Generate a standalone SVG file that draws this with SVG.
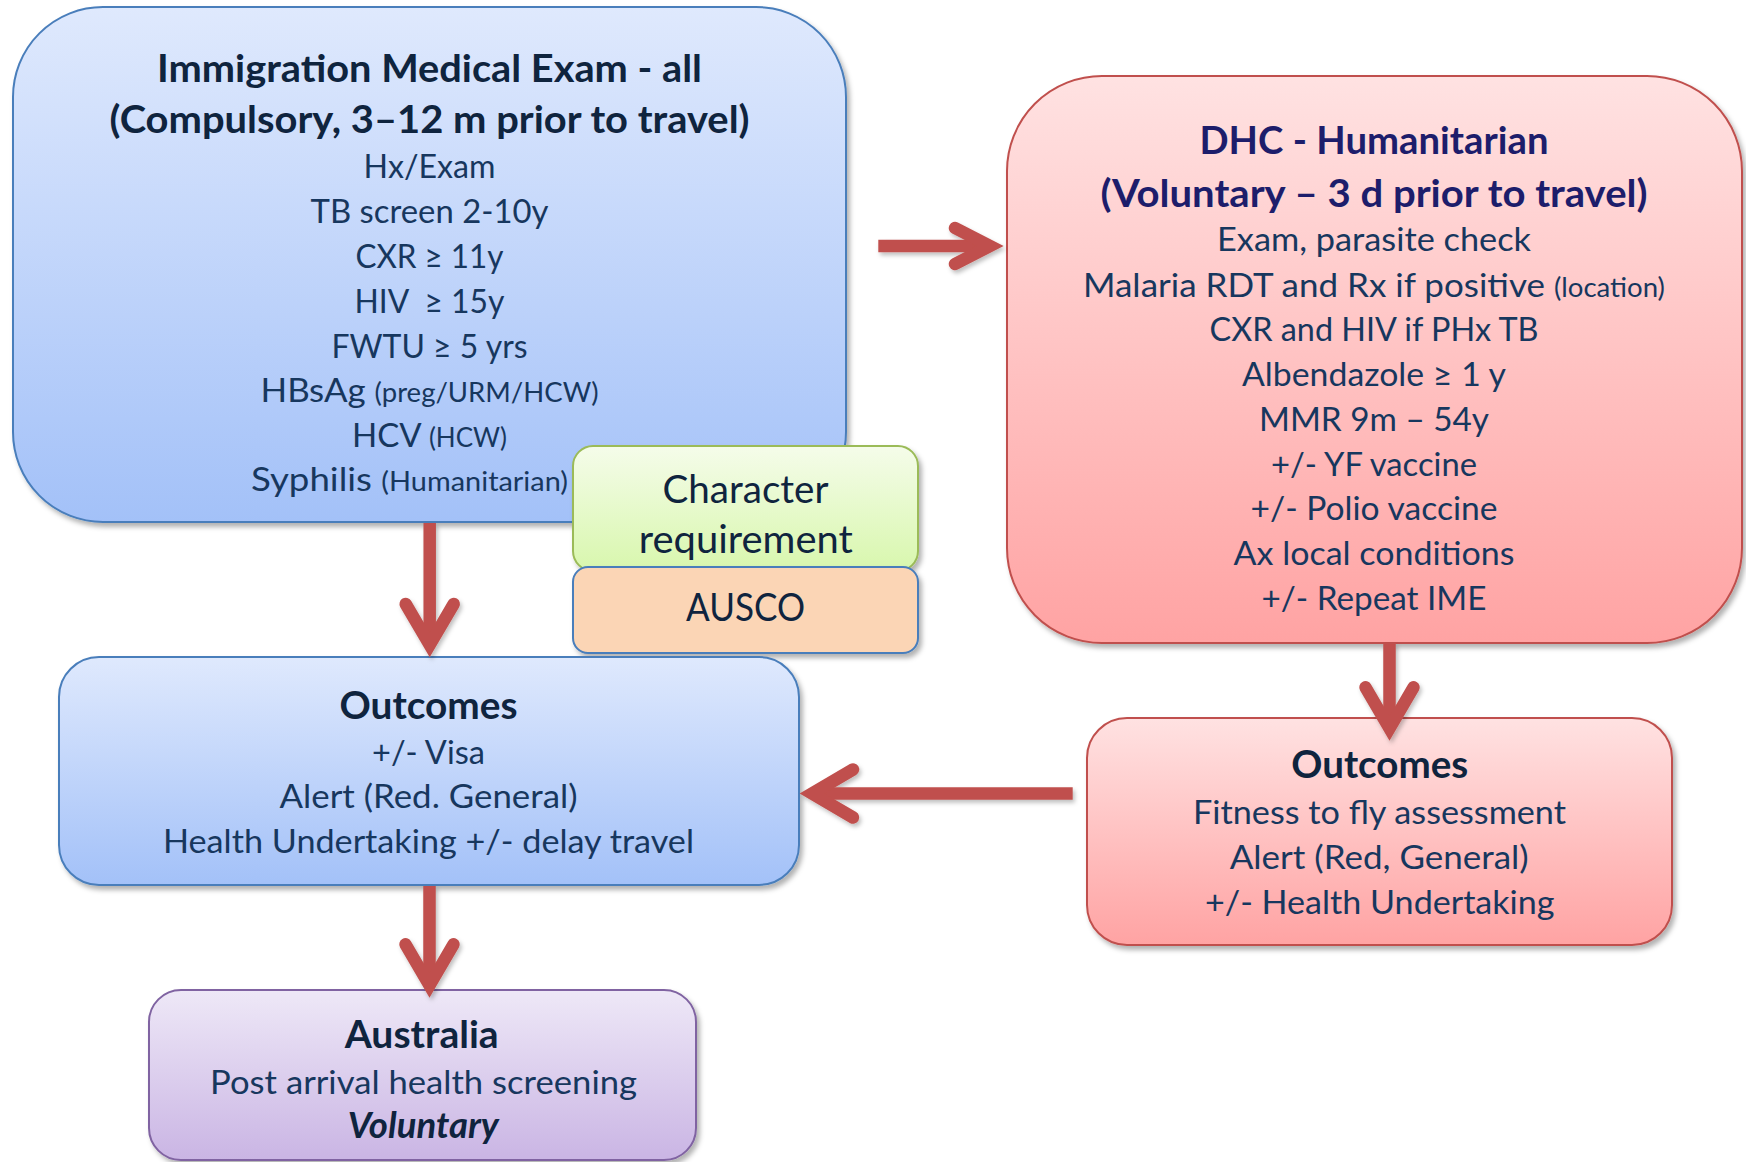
<svg xmlns="http://www.w3.org/2000/svg" width="1746" height="1162" viewBox="0 0 1746 1162">
<defs>
<linearGradient id="gBlue" x1="0" y1="0" x2="0" y2="1"><stop offset="0" stop-color="#DFE9FD"/><stop offset="1" stop-color="#A3C1F8"/></linearGradient>
<linearGradient id="gGreen" x1="0" y1="0" x2="0" y2="1"><stop offset="0" stop-color="#F5FCEA"/><stop offset="1" stop-color="#D8F7AD"/></linearGradient>
<linearGradient id="gPink" x1="0" y1="0" x2="0" y2="1"><stop offset="0" stop-color="#FFE2E2"/><stop offset="1" stop-color="#FFA3A3"/></linearGradient>
<linearGradient id="gPurple" x1="0" y1="0" x2="0" y2="1"><stop offset="0" stop-color="#EEE8F7"/><stop offset="1" stop-color="#CAB5E4"/></linearGradient>
<filter id="sh" x="-10%" y="-10%" width="120%" height="130%"><feDropShadow dx="3" dy="4" stdDeviation="2.5" flood-color="#000" flood-opacity="0.3"/></filter>
<filter id="ash" x="-20%" y="-20%" width="140%" height="140%"><feDropShadow dx="2" dy="3" stdDeviation="2" flood-color="#000" flood-opacity="0.25"/></filter>
<style>
text{font-family:Lato,"Open Sans","Liberation Sans",sans-serif;text-anchor:middle;fill:#17375E;font-size:33px}
.t{font-weight:bold;font-size:38px;fill:#0F243E}
.dt{font-weight:bold;font-size:38px;fill:#1D1D6B}
.s{font-size:26px}
.big{font-size:38px;fill:#0F243E}
.bi{font-weight:bold;font-style:italic;font-size:36px;fill:#0F243E}
.blue{fill:url(#gBlue);stroke:#4A7EBB;stroke-width:2}
.green{fill:url(#gGreen);stroke:#9BBB59;stroke-width:2}
.orange{fill:#FBD5B5;stroke:#4A7EBB;stroke-width:2}
.pink{fill:url(#gPink);stroke:#C0504D;stroke-width:2}
.purple{fill:url(#gPurple);stroke:#8064A2;stroke-width:2}
.shaft{fill:none;stroke:#C0504D;stroke-width:12.5}
.head{fill:none;stroke:#C0504D;stroke-width:12.5;stroke-linecap:round;stroke-linejoin:miter;stroke-miterlimit:10}
</style>
</defs>
<rect width="1746" height="1162" fill="#FFFFFF"/>

<g id="node-ime">
<rect class="blue" x="13" y="7" width="833" height="515" rx="90" filter="url(#sh)"/>
<text class="t" x="429.5" y="82" textLength="545" lengthAdjust="spacingAndGlyphs">Immigration Medical Exam - all</text>
<text class="t" x="429.5" y="132.6" textLength="640" lengthAdjust="spacingAndGlyphs">(Compulsory, 3–12 m prior to travel)</text>
<text x="429.5" y="178.4" textLength="132" lengthAdjust="spacingAndGlyphs">Hx/Exam</text>
<text x="429.5" y="223" textLength="238" lengthAdjust="spacingAndGlyphs">TB screen 2-10y</text>
<text x="429.5" y="268" textLength="148" lengthAdjust="spacingAndGlyphs">CXR ≥ 11y</text>
<text x="429.5" y="313" textLength="150" lengthAdjust="spacingAndGlyphs" style="white-space:pre">HIV  ≥ 15y</text>
<text x="429.5" y="358" textLength="196" lengthAdjust="spacingAndGlyphs">FWTU ≥ 5 yrs</text>
<text x="429.5" y="402" textLength="338" lengthAdjust="spacingAndGlyphs">HBsAg <tspan class="s">(preg/URM/HCW)</tspan></text>
<text x="429.5" y="447" textLength="155" lengthAdjust="spacingAndGlyphs">HCV <tspan class="s">(HCW)</tspan></text>
<text x="409.5" y="491" textLength="317" lengthAdjust="spacingAndGlyphs">Syphilis <tspan class="s">(Humanitarian)</tspan></text>
</g>

<g id="node-character">
<rect class="green" x="573" y="446" width="345" height="125" rx="20" filter="url(#sh)"/>
<text class="big" x="745.5" y="503.3" textLength="166" lengthAdjust="spacingAndGlyphs">Character</text>
<text class="big" x="745.8" y="553.3" textLength="214" lengthAdjust="spacingAndGlyphs">requirement</text>
</g>

<g id="node-ausco">
<rect class="orange" x="573" y="567" width="345" height="86" rx="15" filter="url(#sh)"/>
<text class="big" x="745.5" y="620.7" textLength="119" lengthAdjust="spacingAndGlyphs">AUSCO</text>
</g>

<g id="node-dhc">
<rect class="pink" x="1007" y="76" width="735" height="567" rx="95" filter="url(#sh)"/>
<text class="dt" x="1374" y="153.8" textLength="349" lengthAdjust="spacingAndGlyphs">DHC - Humanitarian</text>
<text class="dt" x="1374" y="206.6" textLength="547" lengthAdjust="spacingAndGlyphs">(Voluntary – 3 d prior to travel)</text>
<text x="1374" y="251.4" textLength="314" lengthAdjust="spacingAndGlyphs">Exam, parasite check</text>
<text x="1374" y="296.5" textLength="582" lengthAdjust="spacingAndGlyphs">Malaria RDT and Rx if positive <tspan class="s">(location)</tspan></text>
<text x="1374" y="341.3" textLength="329" lengthAdjust="spacingAndGlyphs">CXR and HIV if PHx TB</text>
<text x="1374" y="386" textLength="264" lengthAdjust="spacingAndGlyphs">Albendazole ≥ 1 y</text>
<text x="1374" y="431" textLength="230" lengthAdjust="spacingAndGlyphs">MMR 9m – 54y</text>
<text x="1374" y="476.4" textLength="206" lengthAdjust="spacingAndGlyphs">+/- YF vaccine</text>
<text x="1374" y="520.4" textLength="247" lengthAdjust="spacingAndGlyphs">+/- Polio vaccine</text>
<text x="1374" y="565" textLength="281" lengthAdjust="spacingAndGlyphs">Ax local conditions</text>
<text x="1374" y="610.3" textLength="225" lengthAdjust="spacingAndGlyphs">+/- Repeat IME</text>
</g>

<g id="node-outcomes-ime">
<rect class="blue" x="59" y="657" width="740" height="228" rx="40" filter="url(#sh)"/>
<text class="t" x="428.5" y="718.9" textLength="178" lengthAdjust="spacingAndGlyphs">Outcomes</text>
<text x="428.5" y="764.2" textLength="113" lengthAdjust="spacingAndGlyphs">+/- Visa</text>
<text x="428.5" y="808" textLength="298" lengthAdjust="spacingAndGlyphs">Alert (Red. General)</text>
<text x="428.5" y="853" textLength="531" lengthAdjust="spacingAndGlyphs">Health Undertaking +/- delay travel</text>
</g>

<g id="node-outcomes-dhc">
<rect class="pink" x="1087" y="718" width="585" height="227" rx="40" filter="url(#sh)"/>
<text class="t" x="1379.8" y="777.7" textLength="177" lengthAdjust="spacingAndGlyphs">Outcomes</text>
<text x="1379.5" y="824" textLength="373" lengthAdjust="spacingAndGlyphs">Fitness to fly assessment</text>
<text x="1379.2" y="869.3" textLength="299" lengthAdjust="spacingAndGlyphs">Alert (Red, General)</text>
<text x="1379.8" y="914" textLength="349.5" lengthAdjust="spacingAndGlyphs">+/- Health Undertaking</text>
</g>

<g id="node-australia">
<rect class="purple" x="149" y="990" width="547" height="170" rx="32" filter="url(#sh)"/>
<text class="t" x="421.7" y="1047.8" textLength="154" lengthAdjust="spacingAndGlyphs">Australia</text>
<text x="423.6" y="1094.4" textLength="427" lengthAdjust="spacingAndGlyphs">Post arrival health screening</text>
<text class="bi" x="423.3" y="1138.3" textLength="151" lengthAdjust="spacingAndGlyphs">Voluntary</text>
</g>

<g id="connectors" filter="url(#ash)">
<path class="shaft" d="M429.7,523 V645"/>
<path class="head" d="M405.7,604 L429.7,645 L453.7,604"/>
<path class="shaft" d="M878.3,246 H990"/>
<path class="head" d="M955,228 L990,246 L955,264"/>
<path class="shaft" d="M1389.5,643 V728"/>
<path class="head" d="M1365.5,687.3 L1389.5,728.3 L1413.5,687.3"/>
<path class="shaft" d="M1072.7,793.5 H812"/>
<path class="head" d="M853,769.5 L812,793.5 L853,817.5"/>
<path class="shaft" d="M429.5,886 V985"/>
<path class="head" d="M405.5,944.3 L429.5,985.3 L453.5,944.3"/>
</g>
</svg>
